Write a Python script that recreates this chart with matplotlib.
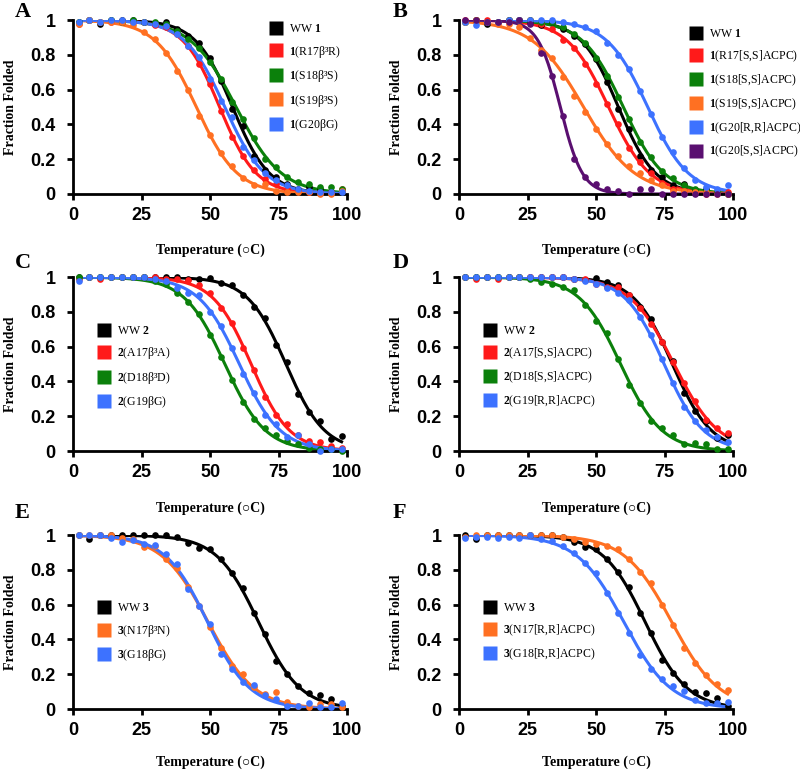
import numpy as np
import matplotlib
matplotlib.use("Agg")
import matplotlib.pyplot as plt
from matplotlib.lines import Line2D

plt.rcParams['mathtext.fontset'] = 'custom'
plt.rcParams['mathtext.rm'] = 'Liberation Serif'
plt.rcParams['mathtext.bf'] = 'Liberation Serif:bold'

# temperatures of the measurements (deg C)
temps = [2, 6, 10, 14, 18, 22, 26, 30, 34, 38, 42, 46, 50,
         54, 58, 62, 66, 70, 74, 78, 82, 86, 90, 94, 98]

# --- panel A
a_ww1 = [0.99, 1.0, 0.98, 1.0, 1.0, 1.0, 0.99, 0.98, 0.99, 0.95, 0.91, 0.87, 0.78,
         0.65, 0.49, 0.39, 0.22, 0.14, 0.10, 0.06, 0.03, 0.04, 0.03, 0.01, 0.01]
a_r17 = [0.98, 1.0, 0.99, 0.99, 0.99, 0.99, 0.99, 0.97, 0.96, 0.92, 0.85, 0.75, 0.63,
         0.48, 0.33, 0.22, 0.14, 0.085, 0.055, 0.03, 0.015, 0.01, 0.01, 0.01, 0.03]
a_s18 = [0.99, 1.0, 0.99, 1.0, 0.99, 1.0, 0.99, 0.99, 0.98, 0.94, 0.89, 0.84, 0.76,
         0.66, 0.53, 0.43, 0.32, 0.20, 0.155, 0.10, 0.07, 0.06, 0.04, 0.04, 0.03]
a_s19 = [0.98, 1.0, 0.99, 0.99, 0.99, 0.97, 0.93, 0.89, 0.81, 0.71, 0.60, 0.45, 0.34,
         0.235, 0.16, 0.09, 0.05, 0.06, 0.015, 0.01, 0.01, 0.01, 0.0, 0.0, 0.02]
a_g20 = [0.99, 1.0, 0.99, 1.0, 1.0, 0.99, 0.99, 0.98, 0.965, 0.92, 0.85, 0.79, 0.66,
         0.535, 0.44, 0.27, 0.195, 0.12, 0.08, 0.05, 0.03, 0.02, 0.01, 0.01, 0.01]

# --- panel B
b_ww1 = [0.99, 1.0, 0.98, 0.99, 1.0, 1.0, 0.99, 0.97, 0.99, 0.95, 0.91, 0.86, 0.775,
         0.645, 0.49, 0.375, 0.22, 0.14, 0.10, 0.05, 0.055, 0.025, 0.03, 0.01, 0.0]
b_r17 = [1.0, 1.0, 1.0, 0.99, 1.0, 1.0, 1.0, 0.98, 0.95, 0.885, 0.84, 0.75, 0.63,
         0.52, 0.40, 0.265, 0.185, 0.12, 0.065, 0.03, 0.02, 0.01, 0.0, 0.01, 0.01]
b_s18 = [0.99, 1.0, 0.99, 0.99, 1.0, 1.0, 1.0, 0.99, 0.99, 0.96, 0.92, 0.87, 0.785,
         0.68, 0.555, 0.43, 0.30, 0.21, 0.135, 0.09, 0.05, 0.03, 0.02, 0.01, 0.0]
b_s19 = [0.99, 1.0, 0.99, 0.98, 0.98, 0.96, 0.90, 0.83, 0.785, 0.675, 0.565, 0.47, 0.375,
         0.29, 0.22, 0.16, 0.12, 0.08, 0.05, 0.015, 0.02, 0.01, 0.01, 0.0, 0.0]
b_g20rr = [0.99, 0.97, 0.99, 0.99, 1.0, 1.0, 1.0, 1.0, 1.0, 0.99, 0.98, 0.96, 0.935,
           0.87, 0.80, 0.72, 0.595, 0.46, 0.33, 0.24, 0.15, 0.08, 0.04, 0.03, 0.05]
b_g20ss = [1.0, 1.0, 0.99, 0.99, 0.99, 1.0, 0.975, 0.81, 0.68, 0.45, 0.20, 0.10, 0.055,
           0.03, 0.015, 0.0, 0.03, 0.03, 0.0, 0.0, 0.0, 0.0, 0.0, 0.0, 0.0]

# --- panel C
c_ww2 = [1.0, 1.0, 1.0, 1.0, 1.0, 1.0, 1.0, 1.0, 1.0, 1.0, 0.99, 0.99, 0.995,
         0.965, 0.955, 0.90, 0.83, 0.765, 0.61, 0.51, 0.33, 0.225, 0.17, 0.07, 0.085]
c_a17 = [0.99, 1.0, 0.99, 1.0, 1.0, 1.0, 1.0, 1.0, 0.99, 0.99, 0.985, 0.955, 0.91,
         0.825, 0.735, 0.59, 0.465, 0.31, 0.21, 0.155, 0.09, 0.06, 0.05, 0.03, 0.015]
c_d18 = [1.0, 1.0, 1.0, 1.0, 1.0, 1.0, 1.0, 0.98, 0.96, 0.91, 0.86, 0.79, 0.665,
         0.54, 0.41, 0.28, 0.185, 0.13, 0.095, 0.06, 0.04, 0.02, 0.01, 0.01, 0.0]
c_g19 = [0.98, 1.0, 1.0, 1.0, 1.0, 1.0, 1.0, 0.99, 0.98, 0.94, 0.91, 0.90, 0.80,
         0.72, 0.59, 0.445, 0.335, 0.205, 0.155, 0.08, 0.09, 0.04, 0.0, 0.01, 0.01]

# --- panel D
d_ww2 = [1.0, 1.0, 1.0, 1.0, 1.0, 1.0, 1.0, 1.0, 1.0, 1.0, 0.99, 0.985, 0.995,
         0.97, 0.955, 0.895, 0.83, 0.76, 0.625, 0.515, 0.335, 0.23, 0.17, 0.075, 0.09]
d_a17 = [1.0, 0.99, 1.0, 0.99, 1.0, 1.0, 1.0, 1.0, 1.0, 1.0, 0.99, 0.99, 0.96,
         0.945, 0.945, 0.90, 0.82, 0.73, 0.63, 0.51, 0.39, 0.285, 0.18, 0.135, 0.105]
d_d18 = [1.0, 1.0, 1.0, 1.0, 1.0, 1.0, 0.99, 0.975, 0.96, 0.945, 0.925, 0.84, 0.75,
         0.68, 0.53, 0.38, 0.275, 0.175, 0.13, 0.095, 0.04, 0.045, 0.04, 0.01, 0.01]
d_g19 = [1.0, 1.0, 1.0, 1.0, 1.0, 1.0, 1.0, 1.0, 1.0, 1.0, 0.99, 0.98, 0.96,
         0.94, 0.91, 0.87, 0.77, 0.665, 0.53, 0.39, 0.255, 0.17, 0.12, 0.08, 0.05]

# --- panel E
e_ww3 = [1.0, 0.975, 1.0, 1.0, 1.0, 1.0, 1.0, 1.0, 1.0, 0.99, 0.955, 0.925, 0.92,
         0.86, 0.78, 0.695, 0.555, 0.43, 0.275, 0.20, 0.135, 0.09, 0.08, 0.06, 0.015]
e_n17 = [1.0, 1.0, 1.0, 1.0, 0.985, 0.975, 0.93, 0.935, 0.86, 0.81, 0.70, 0.59, 0.47,
         0.35, 0.25, 0.20, 0.125, 0.085, 0.10, 0.04, 0.015, 0.01, 0.03, 0.03, 0.01]
e_g18 = [1.0, 1.0, 1.0, 0.985, 0.96, 0.97, 0.95, 0.945, 0.89, 0.835, 0.69, 0.595, 0.49,
         0.315, 0.23, 0.155, 0.14, 0.08, 0.055, 0.02, 0.02, 0.035, 0.01, 0.01, 0.035]

# --- panel F
f_ww3 = [1.0, 0.98, 1.0, 1.0, 1.0, 1.0, 1.0, 1.0, 1.0, 0.99, 0.96, 0.93, 0.92,
         0.865, 0.79, 0.70, 0.555, 0.435, 0.28, 0.205, 0.145, 0.10, 0.09, 0.065, 0.02]
f_n17 = [0.99, 1.0, 1.0, 1.0, 1.0, 1.0, 1.0, 1.0, 1.0, 0.99, 0.98, 0.96, 0.95,
         0.935, 0.92, 0.86, 0.79, 0.725, 0.60, 0.485, 0.35, 0.265, 0.195, 0.145, 0.11]
f_g18 = [0.985, 0.99, 0.99, 0.985, 0.99, 0.985, 1.0, 0.975, 0.965, 0.94, 0.90, 0.84, 0.78,
         0.67, 0.555, 0.44, 0.31, 0.23, 0.175, 0.13, 0.105, 0.05, 0.035, 0.035, 0.04]

BLACK, RED, GREEN = '#000000', '#ff1a1a', '#0b800b'
ORANGE, BLUE, PURPLE = '#ff7022', '#3d72ff', '#5a0f70'

panels = [
    ("A", [(a_ww1, BLACK, "WW $\\mathbf{1}$"),
           (a_r17, RED, "$\\mathbf{1}$(R17β³R)"),
           (a_s18, GREEN, "$\\mathbf{1}$(S18β³S)"),
           (a_s19, ORANGE, "$\\mathbf{1}$(S19β³S)"),
           (a_g20, BLUE, "$\\mathbf{1}$(G20βG)")], (0.713, 0.983)),
    ("B", [(b_ww1, BLACK, "WW $\\mathbf{1}$"),
           (b_r17, RED, "$\\mathbf{1}$(R17[S,S]ACPC)"),
           (b_s18, GREEN, "$\\mathbf{1}$(S18[S,S]ACPC)"),
           (b_s19, ORANGE, "$\\mathbf{1}$(S19[S,S]ACPC)"),
           (b_g20rr, BLUE, "$\\mathbf{1}$(G20[R,R]ACPC)"),
           (b_g20ss, PURPLE, "$\\mathbf{1}$(G20[S,S]ACPC)")], (0.836, 0.955)),
    ("C", [(c_ww2, BLACK, "WW $\\mathbf{2}$"),
           (c_a17, RED, "$\\mathbf{2}$(A17β³A)"),
           (c_d18, GREEN, "$\\mathbf{2}$(D18β³D)"),
           (c_g19, BLUE, "$\\mathbf{2}$(G19βG)")], (0.084, 0.725)),
    ("D", [(d_ww2, BLACK, "WW $\\mathbf{2}$"),
           (d_a17, RED, "$\\mathbf{2}$(A17[S,S]ACPC)"),
           (d_d18, GREEN, "$\\mathbf{2}$(D18[S,S]ACPC)"),
           (d_g19, BLUE, "$\\mathbf{2}$(G19[R,R]ACPC)")], (0.084, 0.725)),
    ("E", [(e_ww3, BLACK, "WW $\\mathbf{3}$"),
           (e_n17, ORANGE, "$\\mathbf{3}$(N17β³N)"),
           (e_g18, BLUE, "$\\mathbf{3}$(G18βG)")], (0.086, 0.614)),
    ("F", [(f_ww3, BLACK, "WW $\\mathbf{3}$"),
           (f_n17, ORANGE, "$\\mathbf{3}$(N17[R,R]ACPC)"),
           (f_g18, BLUE, "$\\mathbf{3}$(G18[R,R]ACPC)")], (0.086, 0.614)),
]


def fit_sigmoid(T, y):
    # two-state melt: simple logistic, least squares on a grid
    tm = np.arange(20, 100, 0.1)[:, None, None]
    w = np.arange(1.0, 15, 0.05)[None, :, None]
    pred = 1.0 / (1.0 + np.exp((T[None, None, :] - tm) / w))
    err = ((pred - y[None, None, :]) ** 2).sum(-1)
    i, j = np.unravel_index(err.argmin(), err.shape)
    return tm[i, 0, 0], w[0, j, 0]


fig = plt.figure(figsize=(8, 7.71), dpi=100)
lefts = [0.0913, 0.574]
bottoms = [0.7484, 0.415, 0.0804]
xlab_y = [-0.283, -0.29, -0.265]
letter_x = [15 / 800, 393 / 800]
letter_y = [1 - 17 / 771, 1 - 268 / 771, 1 - 518 / 771]

T = np.array(temps, dtype=float)
Tfine = np.linspace(T.min(), T.max(), 300)

for k, (letter, series, leg_pos) in enumerate(panels):
    r, c = divmod(k, 2)
    ax = fig.add_axes([lefts[c], bottoms[r], 0.3425, 0.2255])
    handles = []
    for vals, col, lab in series:
        y = np.array(vals)
        tm, w = fit_sigmoid(T, y)
        ax.plot(Tfine, 1.0 / (1.0 + np.exp((Tfine - tm) / w)), color=col, lw=2.2, zorder=2)
        ax.plot(T, y, 'o', color=col, ms=4.8, mec='none', zorder=3, clip_on=False)
        handles.append(Line2D([], [], ls='none', marker='s', ms=10.5, color=col, mec='none', label=lab))

    ax.set_xlim(0, 100)
    ax.set_ylim(0, 1)
    ax.set_xticks([0, 25, 50, 75, 100])
    ax.set_yticks([0, 0.2, 0.4, 0.6, 0.8, 1.0])
    ax.set_yticklabels(['0', '0.2', '0.4', '0.6', '0.8', '1'])
    for s in ['top', 'right']:
        ax.spines[s].set_visible(False)
    for s in ['left', 'bottom']:
        ax.spines[s].set_linewidth(2)
    ax.tick_params(direction='out', length=4.5, width=2, labelsize=13)
    ax.tick_params(axis='x', pad=5)
    ax.tick_params(axis='y', pad=8)
    for t in ax.get_xticklabels() + ax.get_yticklabels():
        t.set_fontfamily('Liberation Sans')
        t.set_fontweight('bold')

    ax.set_ylabel("Fraction Folded", family='Liberation Serif', weight='bold', fontsize=10)
    ax.yaxis.set_label_coords(-0.205, 0.5)
    ax.set_xlabel("Temperature (\u25cbC)", family=['Liberation Serif', 'DejaVu Sans'],
                  weight='bold', fontsize=10)
    ax.xaxis.set_label_coords(0.5, xlab_y[r])

    ax.legend(handles=handles, loc='upper left', bbox_to_anchor=leg_pos, frameon=False,
              prop={'family': 'Liberation Serif', 'size': 8.5}, handlelength=1.3,
              handletextpad=0.45, labelspacing=0.72, borderpad=0, borderaxespad=0)

    fig.text(letter_x[c], letter_y[r], letter, family='Liberation Serif', weight='bold',
             fontsize=16, va='baseline', ha='left')

fig.savefig("out.png", dpi=100)
